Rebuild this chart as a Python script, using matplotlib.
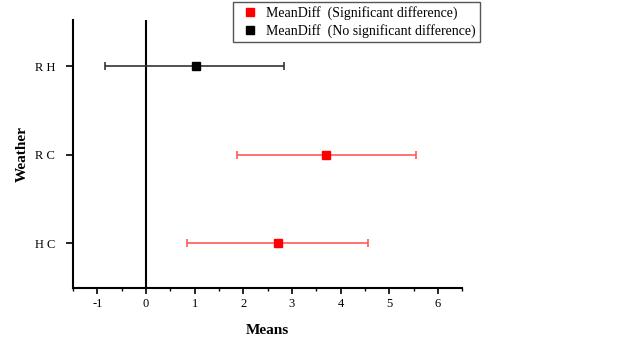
import matplotlib.pyplot as plt
from matplotlib.lines import Line2D
from matplotlib.ticker import MultipleLocator

plt.rcParams['font.family'] = ['Liberation Serif', 'DejaVu Serif']
plt.rcParams['axes.unicode_minus'] = False

pairs = ["H C", "R C", "R H"]  # bottom to top
mean_diff = [2.72, 3.71, 1.03]
lower = [0.85, 1.87, -0.85]
upper = [4.57, 5.56, 2.84]
significant = [True, True, False]

fig = plt.figure(figsize=(6.41, 3.58), dpi=100)
ax = fig.add_axes([0.114, 0.196, 0.607, 0.748])

for i, name in enumerate(pairs):
    m = mean_diff[i]
    col = "red" if significant[i] else "black"
    line_col = "#ff5a5a" if significant[i] else "#333333"
    ax.errorbar(m, i, xerr=[[m - lower[i]], [upper[i] - m]], fmt="s", color=col,
                ecolor=line_col, elinewidth=1.2, capsize=3, capthick=1.2,
                markersize=6, zorder=3)

ax.axvline(0, color="black", lw=1.5, zorder=2)

ax.set_xlim(-1.5, 6.5)
ax.set_ylim(-0.5, 2.52)
ax.set_yticks(range(len(pairs)))
ax.set_yticklabels(pairs, fontsize=9)
ax.xaxis.set_major_locator(MultipleLocator(1))
ax.xaxis.set_minor_locator(MultipleLocator(0.5))
ax.tick_params(axis="x", labelsize=9, direction="out", length=4, width=1.2)
ax.tick_params(axis="x", which="minor", length=2, width=1)
ax.tick_params(axis="y", direction="out", length=5, width=1.2, pad=8)
ax.spines["top"].set_visible(False)
ax.spines["right"].set_visible(False)
ax.spines["left"].set_linewidth(1.5)
ax.spines["bottom"].set_linewidth(1.5)

ax.set_xlabel("Means", fontsize=11, fontweight="bold", labelpad=10)
ax.set_ylabel("Weather", fontsize=11, fontweight="bold", labelpad=4)

handles = [
    Line2D([], [], marker="s", color="red", linestyle="none", markersize=6),
    Line2D([], [], marker="s", color="black", linestyle="none", markersize=6),
]
fig.legend(handles, ["MeanDiff  (Significant difference)", "MeanDiff  (No significant difference)"],
           loc="upper left", bbox_to_anchor=(0.3635, 0.994), borderaxespad=0, fontsize=10,
           frameon=True, fancybox=False, edgecolor="#555555", framealpha=1,
           handletextpad=0.3, borderpad=0.3, labelspacing=0.25, handlelength=1.8)

fig.savefig("out.png", dpi=100)
